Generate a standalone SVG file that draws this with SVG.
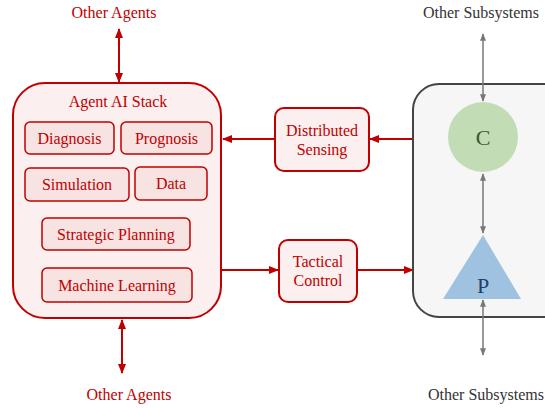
<svg xmlns="http://www.w3.org/2000/svg" width="545" height="408" viewBox="0 0 545 408">
<defs>
<marker id="ar" viewBox="0 0 10 10" refX="9" refY="5" markerWidth="5" markerHeight="5" orient="auto-start-reverse"><path d="M0,1 L10,5 L0,9 z" fill="#c00000"/></marker>
<marker id="ag" viewBox="0 0 10 10" refX="9" refY="5" markerWidth="5" markerHeight="5" orient="auto-start-reverse"><path d="M0,1 L10,5 L0,9 z" fill="#777"/></marker>
<style>
text{font-family:"Liberation Serif","Times New Roman",serif;font-size:16px;text-anchor:middle}
.r{fill:#c00000}
.g{fill:#333}
.box{fill:#f8e3e3;stroke:#c00000;stroke-width:1.5}
.big{fill:#fbefef;stroke:#c00000;stroke-width:2}
.rl{stroke:#c00000;stroke-width:2;fill:none}
.gl{stroke:#777;stroke-width:1.5;fill:none}
</style>
</defs>
<g id="connectors">
<line class="rl" x1="119" y1="29" x2="119" y2="82" marker-start="url(#ar)" marker-end="url(#ar)"/>
<line class="rl" x1="122" y1="320" x2="122" y2="373" marker-start="url(#ar)" marker-end="url(#ar)"/>
<line class="rl" x1="414" y1="139" x2="370" y2="139" marker-end="url(#ar)"/>
<line class="rl" x1="275" y1="139" x2="223" y2="139" marker-end="url(#ar)"/>
<line class="rl" x1="221" y1="270" x2="278" y2="270" marker-end="url(#ar)"/>
<line class="rl" x1="357" y1="270" x2="413" y2="270" marker-end="url(#ar)"/>
</g>
<g id="subsystem">
<rect x="413" y="84" width="160" height="233" rx="26" fill="#f6f6f6" stroke="#444" stroke-width="2"/>
</g>
<g id="agent-stack">
<rect class="big" x="13" y="83" width="208" height="235" rx="32"/>
<text class="r" x="118" y="107">Agent AI Stack</text>
</g>
<g id="diagnosis"><rect class="box" x="25" y="122" width="89" height="32" rx="5"/><text class="r" x="69.5" y="143.5">Diagnosis</text></g>
<g id="prognosis"><rect class="box" x="121" y="122" width="91" height="32" rx="5"/><text class="r" x="166.5" y="143.5">Prognosis</text></g>
<g id="simulation"><rect class="box" x="25" y="168" width="104" height="33" rx="5"/><text class="r" x="77" y="190">Simulation</text></g>
<g id="data"><rect class="box" x="135" y="167" width="72" height="33" rx="5"/><text class="r" x="171" y="189">Data</text></g>
<g id="strategic"><rect class="box" x="42" y="218" width="148" height="32" rx="5"/><text class="r" x="116" y="240">Strategic Planning</text></g>
<g id="ml"><rect class="box" x="42" y="268" width="150" height="34" rx="5"/><text class="r" x="117" y="291">Machine Learning</text></g>
<g id="sensing"><rect class="box" x="275" y="108" width="94" height="63" rx="9" style="fill:#fbefef;stroke-width:2"/><text class="r" x="322" y="136">Distributed</text><text class="r" x="322" y="155">Sensing</text></g>
<g id="tactical"><rect class="box" x="279" y="240" width="78" height="62" rx="9" style="fill:#fbefef;stroke-width:2"/><text class="r" x="318" y="267">Tactical</text><text class="r" x="318" y="286">Control</text></g>
<g id="c-node"><circle cx="483" cy="137" r="35" fill="#c2dcb6"/><text x="483" y="145" style="font-size:22px;fill:#3a5a2c">C</text></g>
<g id="p-node"><polygon points="483,235 443,299 521,299" fill="#9fc2e0"/><text x="483" y="293" style="font-size:22px;fill:#1f4166">P</text></g>
<g id="gray-connectors">
<line class="gl" x1="483" y1="34" x2="483" y2="101" marker-start="url(#ag)" marker-end="url(#ag)"/>
<line class="gl" x1="483" y1="174" x2="483" y2="233" marker-start="url(#ag)" marker-end="url(#ag)"/>
<line class="gl" x1="483" y1="300" x2="483" y2="355" marker-start="url(#ag)" marker-end="url(#ag)"/>
</g>
<g id="labels">
<text class="r" x="114" y="18">Other Agents</text>
<text class="r" x="129" y="400">Other Agents</text>
<text class="g" x="481" y="18">Other Subsystems</text>
<text class="g" x="486" y="400">Other Subsystems</text>
</g>
</svg>
